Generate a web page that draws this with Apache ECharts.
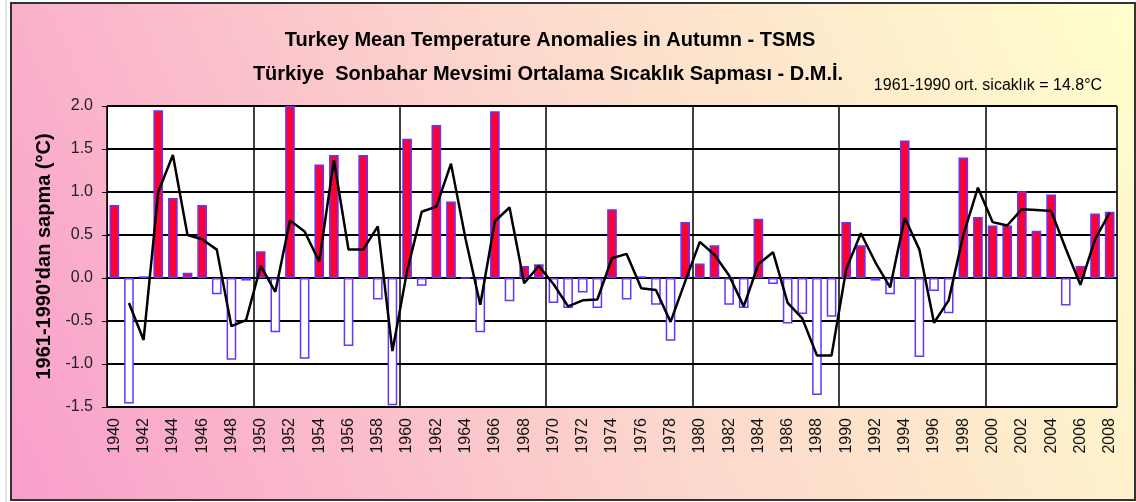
<!DOCTYPE html>
<html>
<head>
<meta charset="utf-8">
<script src="https://cdn.jsdelivr.net/npm/echarts@6/dist/echarts.min.js"></script>
<style>
  html, body { margin: 0; padding: 0; background: #ffffff; }
  #chart { width: 1136px; height: 502px; }
</style>
</head>
<body>
<div id="chart"></div>
<script>
// Autumn mean temperature anomalies for Turkey (relative to 1961-1990)
const years = [
  '1940','1941','1942','1943','1944','1945','1946','1947','1948','1949',
  '1950','1951','1952','1953','1954','1955','1956','1957','1958','1959',
  '1960','1961','1962','1963','1964','1965','1966','1967','1968','1969',
  '1970','1971','1972','1973','1974','1975','1976','1977','1978','1979',
  '1980','1981','1982','1983','1984','1985','1986','1987','1988','1989',
  '1990','1991','1992','1993','1994','1995','1996','1997','1998','1999',
  '2000','2001','2002','2003','2004','2005','2006','2007','2008'
];

// yearly anomaly (°C)
const anomalies = [
   0.85, -1.46,  0.02,  1.95,  0.93,  0.06,  0.85, -0.19, -0.95, -0.03,
   0.31, -0.63,  2.00, -0.94,  1.32,  1.43, -0.79,  1.43, -0.25, -1.48,
   1.62, -0.09,  1.78,  0.89,  0.00, -0.63,  1.94, -0.27,  0.14,  0.16,
  -0.29, -0.35, -0.17, -0.35,  0.80, -0.25,  0.02, -0.31, -0.73,  0.65,
   0.17,  0.38, -0.31, -0.35,  0.69, -0.07, -0.53, -0.42, -1.36, -0.45,
   0.65,  0.38, -0.03, -0.19,  1.60, -0.92, -0.15, -0.41,  1.40,  0.71,
   0.61,  0.61,  1.01,  0.55,  0.97, -0.32,  0.14,  0.75,  0.77
];

// two-year running mean curve
const runningMean = [
   null, -0.29, -0.72,  1.00,  1.43,  0.50,  0.45,  0.33, -0.56, -0.49,
   0.14, -0.16,  0.67,  0.54,  0.19,  1.37,  0.33,  0.33,  0.60, -0.85,
   0.08,  0.77,  0.83,  1.33,  0.45, -0.31,  0.66,  0.82, -0.06,  0.14,
  -0.07, -0.33, -0.26, -0.25,  0.23,  0.28, -0.12, -0.14, -0.51, -0.04,
   0.42,  0.27,  0.03, -0.33,  0.16,  0.30, -0.29, -0.47, -0.90, -0.90,
   0.10,  0.52,  0.18, -0.11,  0.70,  0.33, -0.52, -0.26,  0.50,  1.05,
   0.65,  0.61,  0.80,  0.79,  0.78,  0.34, -0.08,  0.45,  0.76
];

const yTicks = { min: -1.5, max: 2.0, step: 0.5 };

const WARM = '#ff0033';
const COLD = '#ffffff';
const EDGE = '#6633ff';
const FONT = '"Liberation Sans", Arial, sans-serif';

const chart = echarts.init(document.getElementById('chart'), null, { renderer: 'canvas' });

const barData = anomalies.map(v => ({
  value: v,
  itemStyle: { color: v >= 0 ? WARM : COLD }
}));

chart.setOption({
  animation: false,
  backgroundColor: '#ffffff',
  graphic: [
    {
      type: 'rect', z: -10, silent: true,
      shape: { x: 11, y: 3, width: 1124, height: 497 },
      style: {
        fill: new echarts.graphic.LinearGradient(0, 1, 1, 0, [
          { offset: 0, color: '#f99ecb' },
          { offset: 0.5, color: '#fcd6cc' },
          { offset: 1, color: '#ffffcc' }
        ]),
        stroke: '#333333', lineWidth: 2
      }
    },
    {
      type: 'line', z: -10, silent: true,
      shape: { x1: 6, y1: 0, x2: 6, y2: 502 },
      style: { stroke: '#c8c8c8', lineWidth: 1 }
    },
    {
      type: 'text', z: 10,
      x: 550, y: 40,
      style: {
        text: 'Turkey Mean Temperature Anomalies in Autumn - TSMS',
        font: 'bold 20px ' + FONT, fill: '#000000',
        textAlign: 'center', textVerticalAlign: 'middle'
      }
    },
    {
      type: 'text', z: 10,
      x: 548, y: 74,
      style: {
        text: 'Türkiye  Sonbahar Mevsimi Ortalama Sıcaklık Sapması - D.M.İ.',
        font: 'bold 20px ' + FONT, fill: '#000000',
        textAlign: 'center', textVerticalAlign: 'middle'
      }
    },
    {
      type: 'text', z: 10,
      x: 988, y: 86,
      style: {
        text: '1961-1990 ort. sicaklık = 14.8°C',
        font: '16px ' + FONT, fill: '#000000',
        textAlign: 'center', textVerticalAlign: 'middle'
      }
    }
  ],
  grid: {
    left: 107, right: 19, top: 106, bottom: 95,
    show: true, backgroundColor: '#ffffff',
    borderColor: '#9a9a9a', borderWidth: 1
  },
  xAxis: {
    type: 'category',
    data: years,
    boundaryGap: true,
    axisLine: { show: false },
    axisTick: { show: false },
    axisLabel: {
      interval: 1, rotate: 90, margin: 11,
      fontFamily: FONT, fontSize: 16, color: '#111111'
    },
    splitLine: {
      show: true,
      interval: (i) => i % 10 === 0,
      lineStyle: { color: '#000000', width: 1.5 }
    }
  },
  yAxis: {
    type: 'value',
    min: yTicks.min, max: yTicks.max, interval: yTicks.step,
    name: "1961-1990'dan sapma (°C)",
    nameLocation: 'middle', nameRotate: 90, nameGap: 52,
    nameTextStyle: { fontFamily: FONT, fontSize: 20, fontWeight: 'bold', color: '#000000' },
    axisLine: { show: true, lineStyle: { color: '#000000', width: 1 } },
    axisTick: { show: true, length: 5, lineStyle: { color: '#000000' } },
    axisLabel: {
      formatter: v => v.toFixed(1), margin: 14,
      fontFamily: FONT, fontSize: 16, color: '#222222'
    },
    splitLine: { show: true, lineStyle: { color: '#000000', width: 1.8 } }
  },
  series: [
    {
      type: 'bar',
      data: barData,
      barCategoryGap: '34%',
      itemStyle: { borderColor: EDGE, borderWidth: 1.5 },
      z: 2
    },
    {
      type: 'line',
      data: runningMean,
      symbol: 'none',
      connectNulls: false,
      lineStyle: { color: '#000000', width: 2.5 },
      z: 3
    }
  ]
});
</script>
</body>
</html>
